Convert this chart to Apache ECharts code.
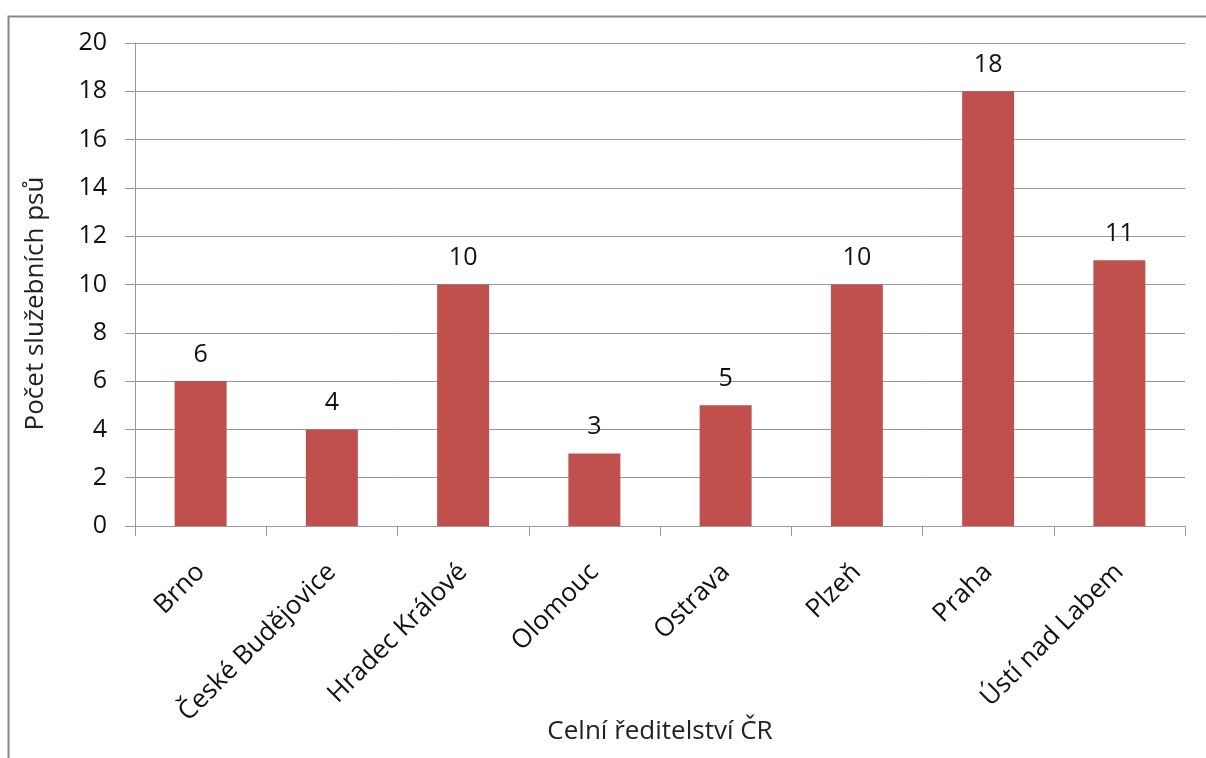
<!DOCTYPE html>
<html><head><meta charset="utf-8">
<script src="https://cdn.jsdelivr.net/npm/echarts@6/dist/echarts.min.js"></script>
<style>html,body{margin:0;padding:0;background:#fff}#c{width:1206px;height:758px}</style>
</head><body><div id="c"></div>
<script>
const categories = ["Brno","České Budějovice","Hradec Králové","Olomouc","Ostrava","Plzeň","Praha","Ústí nad Labem"];
const values = [6,4,10,3,5,10,18,11];
const yTicks = {min:0,max:20,interval:2};
const font = "'Open Sans', 'Noto Sans', sans-serif";
const chart = echarts.init(document.getElementById('c'));
chart.setOption({
  animation:false,
  graphic:[{type:'rect',shape:{x:8.5,y:16.5,width:1300,height:800},style:{fill:'none',stroke:'#888',lineWidth:2},silent:true}],
  grid:{left:135,right:21,top:43,bottom:232,containLabel:false,outerBoundsMode:'none'},
  xAxis:{type:'category',data:categories,
    name:'Celní ředitelství ČR',nameLocation:'middle',nameGap:193,nameMoveOverlap:false,
    nameTextStyle:{fontFamily:font,fontSize:26,color:'#222'},
    axisLine:{lineStyle:{color:'#999',width:1}},
    axisTick:{show:true,length:10,lineStyle:{color:'#999'}},
    axisLabel:{rotate:45,margin:42,fontFamily:font,fontSize:26,color:'#111',interval:0}},
  yAxis:{type:'value',min:yTicks.min,max:yTicks.max,interval:yTicks.interval,
    name:'Počet služebních psů',nameLocation:'middle',nameGap:86,nameMoveOverlap:false,
    nameTextStyle:{fontFamily:font,fontSize:26,color:'#222',padding:[0,38,0,0]},
    axisLine:{show:true,lineStyle:{color:'#999'}},
    axisTick:{show:true,length:10,lineStyle:{color:'#999'}},
    splitLine:{lineStyle:{color:'#999',width:1}},
    axisLabel:{margin:28,fontFamily:font,fontSize:25,color:'#111'}},
  series:[{type:'bar',data:values,barWidth:'39.6%',
    itemStyle:{color:'#C0504D'},
    label:{show:true,position:'top',distance:14,fontFamily:font,fontSize:25,color:'#111'}}]
});
</script></body></html>
